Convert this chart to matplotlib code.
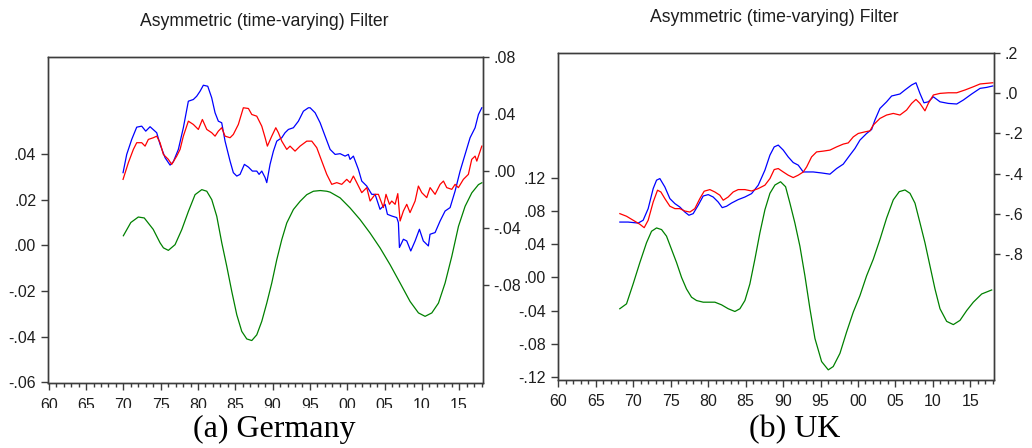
import matplotlib
matplotlib.use("Agg")
import matplotlib.pyplot as plt
from matplotlib.ticker import FixedLocator, MultipleLocator, FuncFormatter
from matplotlib.patches import Rectangle

# ---------------- Germany ----------------
de_cycle_year = [1970.00, 1971.00, 1972.00, 1972.80, 1974.00, 1974.92, 1975.37, 1976.03, 1976.93, 1977.83,
                 1978.72, 1979.61, 1980.51, 1981.18, 1981.85, 1982.52, 1983.19, 1983.86, 1984.53, 1985.20,
                 1985.87, 1986.54, 1987.21, 1987.88, 1988.55, 1989.22, 1989.89, 1990.56, 1991.23, 1991.90,
                 1992.79, 1993.69, 1994.58, 1995.47, 1996.40, 1997.26, 1997.71, 1999.05, 2000.38, 2001.72,
                 2003.06, 2004.40, 2005.75, 2007.09, 2008.43, 2009.55, 2010.44, 2011.34, 2012.23, 2013.12,
                 2014.02, 2014.91, 2015.80, 2016.70, 2017.59, 2018.04]
de_cycle = [0.0042, 0.0100, 0.0124, 0.0120, 0.0070, 0.0011, -0.0011, -0.0022, 0.0003, 0.0069,
            0.0149, 0.0222, 0.0244, 0.0237, 0.0200, 0.0127, 0.0011, -0.0092, -0.0202, -0.0304,
            -0.0377, -0.0410, -0.0417, -0.0392, -0.0333, -0.0253, -0.0165, -0.0063, 0.0025, 0.0098,
            0.0157, 0.0193, 0.0222, 0.0237, 0.0240, 0.0237, 0.0233, 0.0208, 0.0164, 0.0113,
            0.0054, -0.0011, -0.0085, -0.0165, -0.0246, -0.0296, -0.0311, -0.0296, -0.0253, -0.0165,
            -0.0048, 0.0083, 0.0171, 0.0230, 0.0266, 0.0274]

de_actual_year = [1969.96, 1970.45, 1971.12, 1971.79, 1972.46, 1973.00, 1973.58, 1974.47, 1974.92, 1975.59,
                  1976.26, 1976.70, 1977.37, 1978.04, 1978.71, 1979.38, 1979.83, 1980.28, 1980.72, 1981.31,
                  1981.84, 1982.29, 1982.73, 1983.18, 1983.63, 1984.30, 1984.74, 1985.20, 1985.64, 1986.22,
                  1986.76, 1987.29, 1987.88, 1988.19, 1988.55, 1989.00, 1989.22, 1989.66, 1990.11, 1990.56,
                  1991.23, 1991.67, 1992.12, 1992.79, 1993.46, 1994.13, 1994.80, 1995.03, 1995.70, 1996.37,
                  1997.04, 1997.71, 1998.38, 1999.05, 1999.72, 2000.16, 2000.38, 2000.83, 2001.50, 2001.95,
                  2002.62, 2003.29, 2003.74, 2004.40, 2005.08, 2005.39, 2005.97, 2006.64, 2006.86, 2007.00,
                  2007.53, 2007.98, 2008.52, 2009.10, 2009.68, 2010.20, 2010.88, 2011.10, 2011.78, 2012.45,
                  2013.12, 2013.79, 2014.46, 2015.13, 2015.80, 2016.47, 2017.14, 2017.59, 2018.04]
de_actual = [-0.0009, 0.0119, 0.0224, 0.0310, 0.0317, 0.0282, 0.0313, 0.0271, 0.0189, 0.0096,
             0.0044, 0.0068, 0.0154, 0.0306, 0.0492, 0.0504, 0.0527, 0.0562, 0.0604, 0.0597,
             0.0516, 0.0411, 0.0352, 0.0341, 0.0212, 0.0072, -0.0009, -0.0033, -0.0021, 0.0049,
             0.0030, 0.0002, 0.0002, -0.0021, 0.0002, -0.0044, -0.0079, 0.0049, 0.0142, 0.0212,
             0.0236, 0.0271, 0.0294, 0.0306, 0.0352, 0.0422, 0.0446, 0.0446, 0.0411, 0.0341,
             0.0247, 0.0154, 0.0119, 0.0124, 0.0107, 0.0119, 0.0084, 0.0107, 0.0014, -0.0068,
             -0.0103, -0.0161, -0.0161, -0.0266, -0.0231, -0.0301, -0.0313, -0.0324, -0.0359, -0.0534,
             -0.0476, -0.0488, -0.0558, -0.0488, -0.0406, -0.0488, -0.0523, -0.0441, -0.0429, -0.0348,
             -0.0278, -0.0254, -0.0138, 0.0002, 0.0119, 0.0236, 0.0306, 0.0399, 0.0446]

de_trend_year = [1969.96, 1970.67, 1971.34, 1971.79, 1972.46, 1972.91, 1973.35, 1974.02, 1974.47, 1974.92,
                 1975.36, 1976.03, 1976.48, 1977.15, 1977.60, 1978.04, 1978.71, 1979.38, 1980.05, 1980.59,
                 1981.18, 1981.84, 1982.29, 1982.73, 1983.18, 1983.63, 1984.30, 1984.74, 1985.41, 1986.08,
                 1986.76, 1987.21, 1987.88, 1988.55, 1989.00, 1989.30, 1989.89, 1990.43, 1990.78, 1991.23,
                 1991.90, 1992.34, 1993.01, 1993.68, 1994.58, 1995.25, 1995.92, 1996.59, 1997.26, 1997.93,
                 1998.60, 1999.27, 1999.94, 2000.38, 2000.83, 2001.28, 2001.95, 2002.62, 2003.07, 2003.74,
                 2004.18, 2004.85, 2005.20, 2005.66, 2005.97, 2006.42, 2006.78, 2007.09, 2007.53, 2007.98,
                 2008.42, 2009.10, 2009.54, 2009.99, 2010.66, 2011.11, 2011.78, 2012.45, 2012.90, 2013.34,
                 2014.02, 2014.46, 2014.90, 2015.57, 2016.24, 2016.69, 2017.14, 2017.37, 2018.04]
de_trend = [-0.0056, 0.0061, 0.0154, 0.0201, 0.0201, 0.0177, 0.0224, 0.0236, 0.0247, 0.0201,
            0.0119, 0.0084, 0.0049, 0.0107, 0.0154, 0.0247, 0.0352, 0.0329, 0.0294, 0.0364,
            0.0294, 0.0271, 0.0247, 0.0282, 0.0306, 0.0247, 0.0236, 0.0259, 0.0329, 0.0446,
            0.0441, 0.0399, 0.0387, 0.0317, 0.0236, 0.0177, 0.0247, 0.0306, 0.0271, 0.0212,
            0.0154, 0.0177, 0.0142, 0.0177, 0.0212, 0.0212, 0.0166, 0.0072, -0.0021, -0.0091,
            -0.0079, -0.0091, -0.0056, -0.0079, -0.0033, -0.0079, -0.0149, -0.0114, -0.0208, -0.0161,
            -0.0161, -0.0254, -0.0161, -0.0231, -0.0208, -0.0231, -0.0156, -0.0348, -0.0278, -0.0231,
            -0.0289, -0.0208, -0.0103, -0.0149, -0.0184, -0.0114, -0.0161, -0.0091, -0.0068, -0.0114,
            -0.0126, -0.0091, -0.0114, -0.0056, -0.0021, 0.0084, 0.0107, 0.0072, 0.0177]

de_left_ticks = [-0.06, -0.04, -0.02, 0.00, 0.02, 0.04]
de_right_ticks = [-0.08, -0.04, 0.00, 0.04, 0.08]

# ---------------- United Kingdom ----------------
uk_cycle_year = [1968.19, 1969.09, 1969.97, 1970.87, 1971.76, 1972.43, 1973.10, 1973.77, 1974.43, 1975.10,
                 1975.77, 1976.44, 1977.10, 1977.77, 1978.44, 1979.33, 1980.89, 1981.78, 1982.67, 1983.56,
                 1984.23, 1984.90, 1985.56, 1986.23, 1986.90, 1987.57, 1988.24, 1988.91, 1989.66, 1990.33,
                 1990.91, 1991.57, 1992.24, 1992.91, 1993.58, 1994.25, 1995.14, 1996.03, 1996.69, 1997.59,
                 1998.48, 1999.37, 2000.26, 2001.15, 2002.04, 2002.93, 2003.82, 2004.71, 2005.51, 2006.27,
                 2006.94, 2007.61, 2008.28, 2008.94, 2009.61, 2010.28, 2010.95, 2011.84, 2012.73, 2013.62,
                 2014.52, 2015.40, 2016.52, 2017.85]
uk_cycle = [-0.0377, -0.0318, -0.0079, 0.0179, 0.0418, 0.0556, 0.0596, 0.0576, 0.0497, 0.0338,
            0.0179, 0.0000, -0.0139, -0.0238, -0.0278, -0.0298, -0.0298, -0.0330, -0.0377, -0.0410,
            -0.0377, -0.0278, -0.0079, 0.0219, 0.0537, 0.0815, 0.1013, 0.1113, 0.1152, 0.1092,
            0.0894, 0.0656, 0.0377, 0.0020, -0.0377, -0.0735, -0.1013, -0.1113, -0.1073, -0.0914,
            -0.0656, -0.0417, -0.0219, 0.0020, 0.0219, 0.0457, 0.0715, 0.0934, 0.1033, 0.1053,
            0.1013, 0.0894, 0.0656, 0.0418, 0.0139, -0.0139, -0.0377, -0.0529, -0.0568, -0.0517,
            -0.0398, -0.0298, -0.0199, -0.0151]

uk_actual_year = [1968.20, 1969.30, 1970.64, 1971.31, 1971.98, 1972.65, 1973.10, 1973.54, 1974.21, 1974.88,
                  1975.55, 1976.21, 1976.88, 1977.42, 1977.99, 1978.66, 1979.33, 1980.00, 1980.66, 1981.33,
                  1981.87, 1982.45, 1983.12, 1984.00, 1984.90, 1985.79, 1986.68, 1987.57, 1988.24, 1988.81,
                  1989.35, 1990.02, 1990.68, 1991.35, 1992.02, 1992.69, 1994.02, 1995.14, 1996.25, 1997.14,
                  1998.03, 1998.92, 1999.59, 2000.26, 2001.15, 2001.82, 2002.26, 2002.93, 2003.82, 2004.49,
                  2005.60, 2006.27, 2007.16, 2007.74, 2008.27, 2008.81, 2009.39, 2010.06, 2010.95, 2012.06,
                  2013.18, 2014.07, 2015.18, 2016.30, 2017.19, 2017.99]
uk_actual = [-0.642, -0.642, -0.647, -0.633, -0.575, -0.475, -0.433, -0.425, -0.467, -0.525,
             -0.550, -0.567, -0.592, -0.608, -0.600, -0.558, -0.512, -0.505, -0.517, -0.542,
             -0.570, -0.563, -0.547, -0.530, -0.517, -0.500, -0.458, -0.383, -0.308, -0.267,
             -0.258, -0.283, -0.317, -0.345, -0.358, -0.392, -0.392, -0.397, -0.403, -0.375,
             -0.353, -0.308, -0.275, -0.233, -0.200, -0.180, -0.133, -0.075, -0.042, -0.013,
             -0.003, 0.017, 0.042, 0.053, 0.000, -0.047, -0.042, -0.017, -0.042, -0.050,
             -0.053, -0.033, -0.003, 0.025, 0.030, 0.037]

uk_trend_year = [1968.20, 1969.09, 1969.98, 1970.87, 1971.45, 1971.98, 1972.65, 1973.23, 1973.68, 1974.21,
                 1974.88, 1975.55, 1976.21, 1976.88, 1977.55, 1978.21, 1978.88, 1979.46, 1980.22, 1980.89,
                 1981.55, 1982.00, 1982.66, 1983.33, 1984.00, 1984.90, 1985.79, 1986.68, 1987.57, 1988.24,
                 1988.81, 1989.35, 1990.02, 1990.68, 1991.35, 1992.02, 1992.69, 1993.14, 1993.80, 1994.47,
                 1995.36, 1996.25, 1997.14, 1998.03, 1998.70, 1999.37, 2000.03, 2000.92, 2001.59, 2002.04,
                 2002.93, 2003.82, 2004.71, 2005.60, 2006.49, 2007.16, 2007.74, 2008.27, 2008.94, 2009.39,
                 2010.06, 2010.95, 2012.06, 2013.18, 2014.29, 2015.40, 2016.30, 2017.99]
uk_trend = [-0.600, -0.613, -0.633, -0.653, -0.670, -0.633, -0.542, -0.483, -0.492, -0.525,
            -0.563, -0.575, -0.575, -0.587, -0.592, -0.575, -0.525, -0.488, -0.480, -0.492,
            -0.508, -0.533, -0.517, -0.492, -0.480, -0.480, -0.487, -0.475, -0.458, -0.425,
            -0.380, -0.375, -0.392, -0.408, -0.420, -0.408, -0.392, -0.367, -0.317, -0.292,
            -0.288, -0.283, -0.267, -0.253, -0.247, -0.217, -0.200, -0.192, -0.187, -0.158,
            -0.125, -0.108, -0.100, -0.108, -0.083, -0.050, -0.030, -0.050, -0.087, -0.050,
            -0.008, 0.000, 0.003, 0.003, 0.017, 0.033, 0.047, 0.053]

uk_left_ticks = [-0.12, -0.08, -0.04, 0.00, 0.04, 0.08, 0.12]
uk_right_ticks = [-0.8, -0.6, -0.4, -0.2, 0.0, 0.2]

year_ticks = list(range(1960, 2016, 5))
title_text = "Asymmetric (time-varying) Filter"
captions = ["(a) Germany", "(b) UK"]

BLUE = "#0000FF"
RED = "#FF0000"
GREEN = "#008000"
FRAME = "#3c3c3c"
TXT = "#1e1e1e"
SANS = "Liberation Sans"
SERIF = "Liberation Serif"

W, H = 1032, 448
fig = plt.figure(figsize=(W / 100, H / 100), dpi=100)
fig.patch.set_facecolor("white")


def frac_box(x0, y0, x1, y1):
    return [x0 / W, 1 - y1 / H, (x1 - x0) / W, (y1 - y0) / H]


def short_fmt(decimals):
    def f(v, _pos):
        s = f"{v:.{decimals}f}"
        if s.startswith("-0"):
            s = "-" + s[2:]
        elif s.startswith("0"):
            s = s[1:]
        if s.startswith("-") and float(s) == 0:
            s = s[1:]
        return s
    return FuncFormatter(f)


def year_fmt(v, _pos):
    return f"{int(round(v)) % 100:02d}"


def style_axis(ax):
    for sp in ax.spines.values():
        sp.set_color(FRAME)
        sp.set_linewidth(1.0)
    ax.tick_params(axis="both", colors=FRAME, labelcolor=TXT, labelsize=11.5,
                   width=1.0, direction="out")
    for lab in ax.get_xticklabels() + ax.get_yticklabels():
        lab.set_family(SANS)


def panel(box, cyc_x, cyc_y, act_x, act_y, tr_x, tr_y,
          left_lim, left_ticks, left_dec, right_lim, right_ticks, right_dec, xpad):
    ax = fig.add_axes(box)
    ax.set_facecolor("none")
    ax.plot(cyc_x, cyc_y, color=GREEN, lw=0.9)
    ax.set_xlim(1959.9, 2018.2)
    ax.set_ylim(*left_lim)
    ax.xaxis.set_major_locator(FixedLocator(year_ticks))
    ax.xaxis.set_minor_locator(MultipleLocator(1))
    ax.xaxis.set_major_formatter(FuncFormatter(year_fmt))
    ax.yaxis.set_major_locator(FixedLocator(left_ticks))
    ax.yaxis.set_major_formatter(short_fmt(left_dec))

    ax2 = ax.twinx()
    ax2.plot(act_x, act_y, color=BLUE, lw=0.9)
    ax2.plot(tr_x, tr_y, color=RED, lw=0.9)
    ax2.set_ylim(*right_lim)
    ax2.yaxis.set_major_locator(FixedLocator(right_ticks))
    ax2.yaxis.set_major_formatter(short_fmt(right_dec))
    style_axis(ax)
    style_axis(ax2)
    ax.tick_params(axis="x", which="major", length=5, pad=xpad)
    ax.tick_params(axis="x", which="minor", length=3, width=1.0, color=FRAME)
    ax.tick_params(axis="y", which="major", length=5, pad=3.5)
    ax2.tick_params(axis="y", which="major", length=4, pad=3.5)
    return ax, ax2


panel(frac_box(48, 57, 483, 383), de_cycle_year, de_cycle,
      de_actual_year, de_actual, de_trend_year, de_trend,
      (-0.0603, 0.0825), de_left_ticks, 2, (-0.1484, 0.0802), de_right_ticks, 2, 6.0)

panel(frac_box(557.7, 52.7, 994.3, 380), uk_cycle_year, uk_cycle,
      uk_actual_year, uk_actual, uk_trend_year, uk_trend,
      (-0.1235, 0.2706), uk_left_ticks, 2, (-1.43, 0.203), uk_right_ticks, 1, 5.0)

# panel titles
fig.text(264 / W, 1 - 26 / H, title_text, family=SANS, fontsize=12.7, color=TXT,
         ha="center", va="baseline")
fig.text(774.5 / W, 1 - 22.3 / H, title_text, family=SANS, fontsize=12.7, color=TXT,
         ha="center", va="baseline")

# caption strip below the Germany panel
fig.add_artist(Rectangle((0, 0), 512 / W, 1 - 408 / H, transform=fig.transFigure,
                         facecolor="white", edgecolor="none", zorder=2))

fig.text(274 / W, 1 - 437 / H, captions[0], family=SERIF, fontsize=23, color="black",
         ha="center", va="baseline", zorder=3)
fig.text(794.5 / W, 1 - 437 / H, captions[1], family=SERIF, fontsize=23, color="black",
         ha="center", va="baseline", zorder=3)

fig.savefig("out.png", dpi=100, facecolor="white")
